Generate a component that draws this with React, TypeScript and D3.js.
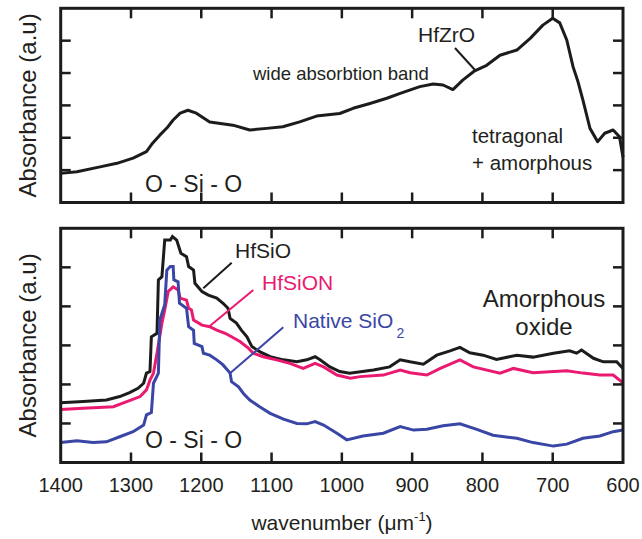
import React from "react";
import * as d3 from "d3";

// ---------- data ----------
const xTicks = [1400, 1300, 1200, 1100, 1000, 900, 800, 700, 600];
const yTicks = [1, 2, 3, 4, 5];

// Top panel: HfZrO film
const hfzroW = [1400, 1377, 1344, 1320, 1297, 1278, 1269, 1259, 1249, 1240, 1230, 1219, 1207, 1188, 1155, 1131, 1107, 1084, 1060, 1036, 1003, 984, 960, 936, 917, 889, 870, 856, 842, 828, 811, 794, 775, 751, 732, 714, 700, 690, 680, 671, 664, 657, 647, 636, 626, 614, 605, 600];
const hfzroA = [0.90, 0.95, 1.10, 1.21, 1.37, 1.57, 1.84, 2.08, 2.30, 2.55, 2.76, 2.85, 2.76, 2.49, 2.39, 2.24, 2.29, 2.34, 2.49, 2.67, 2.75, 2.91, 3.06, 3.22, 3.37, 3.58, 3.66, 3.63, 3.49, 3.78, 4.07, 4.24, 4.55, 4.71, 5.07, 5.48, 5.69, 5.55, 5.02, 4.19, 3.73, 3.16, 2.29, 1.88, 2.14, 2.24, 2.03, 1.40];

// Bottom panel
const hfsioW = [1400, 1368, 1335, 1316, 1302, 1290, 1282, 1278, 1273, 1271, 1263, 1261, 1256, 1252, 1244, 1241, 1235, 1229, 1221, 1218, 1211, 1209, 1199, 1190, 1178, 1169, 1162, 1159, 1150, 1143, 1135, 1128, 1117, 1102, 1083, 1064, 1050, 1038, 1031, 1017, 1003, 989, 955, 932, 917, 903, 884, 865, 846, 832, 818, 799, 780, 751, 728, 699, 676, 666, 659, 642, 628, 609, 600];
const hfsioA = [1.53, 1.56, 1.60, 1.69, 1.79, 1.90, 2.03, 2.29, 2.33, 3.22, 3.31, 4.68, 4.76, 5.70, 5.70, 5.79, 5.70, 5.36, 5.27, 5.02, 4.93, 4.59, 4.38, 4.29, 4.21, 4.08, 3.95, 3.69, 3.57, 3.39, 3.22, 2.97, 2.84, 2.71, 2.63, 2.58, 2.63, 2.71, 2.63, 2.45, 2.33, 2.29, 2.37, 2.45, 2.63, 2.58, 2.52, 2.75, 2.86, 2.95, 2.81, 2.75, 2.64, 2.75, 2.70, 2.80, 2.86, 2.80, 2.88, 2.67, 2.58, 2.58, 2.41];

const hfsionW = [1400, 1368, 1325, 1306, 1287, 1278, 1273, 1268, 1263, 1256, 1252, 1247, 1240, 1233, 1230, 1221, 1218, 1214, 1211, 1199, 1188, 1178, 1166, 1157, 1145, 1133, 1126, 1112, 1093, 1074, 1055, 1038, 1026, 1007, 988, 974, 941, 917, 903, 879, 860, 832, 813, 775, 756, 728, 680, 657, 633, 614, 600];
const hfsionA = [1.36, 1.39, 1.43, 1.56, 1.69, 1.86, 2.11, 2.29, 2.80, 3.57, 3.91, 4.38, 4.50, 4.42, 4.21, 4.16, 3.95, 3.91, 3.65, 3.52, 3.48, 3.39, 3.31, 3.22, 3.10, 2.93, 2.80, 2.71, 2.63, 2.54, 2.41, 2.54, 2.45, 2.24, 2.16, 2.20, 2.24, 2.37, 2.30, 2.24, 2.41, 2.63, 2.45, 2.29, 2.41, 2.30, 2.35, 2.29, 2.24, 2.24, 2.04];

const sio2W = [1400, 1377, 1354, 1335, 1316, 1297, 1282, 1278, 1271, 1268, 1261, 1259, 1252, 1249, 1244, 1240, 1239, 1233, 1231, 1221, 1218, 1211, 1210, 1199, 1197, 1188, 1178, 1169, 1159, 1157, 1147, 1140, 1131, 1117, 1102, 1083, 1064, 1050, 1038, 1026, 1007, 993, 970, 941, 917, 898, 879, 856, 832, 808, 785, 751, 728, 699, 680, 657, 633, 614, 600];
const sio2A = [0.51, 0.56, 0.51, 0.53, 0.66, 0.79, 0.96, 1.22, 1.28, 2.03, 2.29, 3.65, 4.04, 4.93, 5.02, 5.02, 4.68, 4.63, 4.08, 3.95, 3.48, 3.39, 3.05, 2.97, 2.80, 2.75, 2.63, 2.50, 2.29, 2.07, 1.94, 1.77, 1.60, 1.43, 1.26, 1.11, 1.00, 0.99, 1.05, 0.96, 0.75, 0.58, 0.68, 0.75, 0.92, 0.83, 0.85, 0.94, 0.99, 0.85, 0.70, 0.62, 0.51, 0.42, 0.47, 0.62, 0.68, 0.79, 0.83];

// ---------- layout ----------
const W = 642;
const H = 539;
const L = 60.7;
const R = 623;
const top1 = 8.3, bot1 = 202.5;
const top2 = 228.3, bot2 = 462.5;
const FONT = "'Liberation Sans', Arial, Helvetica, sans-serif";
const INK = "#231f20";
const BLACK = "#1c1c1c";
const PINK = "#ea1a70";
const BLUE = "#3a46a6";

const x = d3.scaleLinear().domain([1400, 600]).range([L, R]);
const y1 = d3.scaleLinear().domain([0, 6]).range([bot1, top1]);
const y2 = d3.scaleLinear().domain([0, 6]).range([bot2, top2]);

function path(ws: number[], as: number[], y: d3.ScaleLinear<number, number>) {
  const pts = ws.map((w, i) => [w, as[i]] as [number, number]);
  return d3
    .line<[number, number]>()
    .x((d) => x(d[0]))
    .y((d) => y(d[1]))
    .curve(d3.curveLinear)(pts) as string;
}

function Frame({ y, top, bot }: { y: d3.ScaleLinear<number, number>; top: number; bot: number }) {
  const tl = 10;
  return (
    <g>
      {xTicks.slice(1, -1).map((t) => (
        <g key={"x" + t}>
          <line x1={x(t)} x2={x(t)} y1={top} y2={top + tl} stroke={BLACK} strokeWidth={2.5} />
          <line x1={x(t)} x2={x(t)} y1={bot} y2={bot - tl} stroke={BLACK} strokeWidth={2.5} />
        </g>
      ))}
      {yTicks.map((t) => (
        <g key={"y" + t}>
          <line x1={L} x2={L + tl} y1={y(t)} y2={y(t)} stroke={BLACK} strokeWidth={2.5} />
          <line x1={R} x2={R - tl} y1={y(t)} y2={y(t)} stroke={BLACK} strokeWidth={2.5} />
        </g>
      ))}
      <rect x={L} y={top} width={R - L} height={bot - top} fill="none" stroke={BLACK} strokeWidth={3} />
    </g>
  );
}

export default function App() {
  return (
    <div style={{ position: "absolute", left: 0, top: 0 }}>
      <svg width={W} height={H} style={{ display: "block", background: "#fff" }} fontFamily={FONT}>
        <rect width={W} height={H} fill="#fff" />
        {/* top panel */}
        <path d={path(hfzroW, hfzroA, y1)} fill="none" stroke={BLACK} strokeWidth={3} strokeLinejoin="round" />
        <Frame y={y1} top={top1} bot={bot1} />
        {/* bottom panel */}
        <path d={path(hfsioW, hfsioA, y2)} fill="none" stroke={BLACK} strokeWidth={3} strokeLinejoin="miter" />
        <path d={path(hfsionW, hfsionA, y2)} fill="none" stroke={PINK} strokeWidth={3} strokeLinejoin="miter" />
        <path d={path(sio2W, sio2A, y2)} fill="none" stroke={BLUE} strokeWidth={3} strokeLinejoin="miter" />
        <Frame y={y2} top={top2} bot={bot2} />

        {/* x tick labels */}
        {xTicks.map((t) => (
          <text key={t} x={x(t)} y={492} textAnchor="middle" fontSize={20} fill={INK}>
            {t}
          </text>
        ))}
        {/* axis titles */}
        <text x={342} y={530} textAnchor="middle" fontSize={21} fill={INK}>
          wavenumber (μm<tspan fontSize={13} dy={-9}>-1</tspan>
          <tspan dy={9}>)</tspan>
        </text>
        <text transform={`translate(36,${(top1 + bot1) / 2}) rotate(-90)`} textAnchor="middle" fontSize={24} fill={INK}>
          Absorbance (a.u)
        </text>
        <text transform={`translate(36,${(top2 + bot2) / 2}) rotate(-90)`} textAnchor="middle" fontSize={24} fill={INK}>
          Absorbance (a.u)
        </text>

        {/* top annotations */}
        <text x={418} y={42} fontSize={21} fill={INK}>HfZrO</text>
        <line x1={455} y1={48} x2={475} y2={70} stroke={BLACK} strokeWidth={2} />
        <text x={253} y={80} fontSize={18.5} fill={INK}>wide absorbtion band</text>
        <text x={472} y={143} fontSize={20.5} fill={INK}>tetragonal</text>
        <text x={472} y={170} fontSize={20.5} fill={INK}>+ amorphous</text>
        <text x={145} y={191.5} fontSize={23} fill={INK}>O - Si - O</text>

        {/* bottom annotations */}
        <text x={145} y={448} fontSize={23} fill={INK}>O - Si - O</text>
        <text x={235} y={258} fontSize={21} fill={INK}>HfSiO</text>
        <line x1={231.7} y1={262.7} x2={203.3} y2={288.3} stroke={BLACK} strokeWidth={2} />
        <text x={262} y={290} fontSize={21} fill={PINK}>HfSiON</text>
        <line x1={253.3} y1={290} x2={208.3} y2={327.3} stroke={PINK} strokeWidth={2} />
        <text x={293} y={328} fontSize={21} fill={BLUE}>
          Native SiO<tspan fontSize={14} dx={3} dy={10}>2</tspan>
        </text>
        <line x1={283.3} y1={327.3} x2={230} y2={373.3} stroke={BLUE} strokeWidth={2} />
        <text x={544} y={307} textAnchor="middle" fontSize={24} fill={INK}>Amorphous</text>
        <text x={544} y={335} textAnchor="middle" fontSize={24} fill={INK}>oxide</text>
      </svg>
    </div>
  );
}
